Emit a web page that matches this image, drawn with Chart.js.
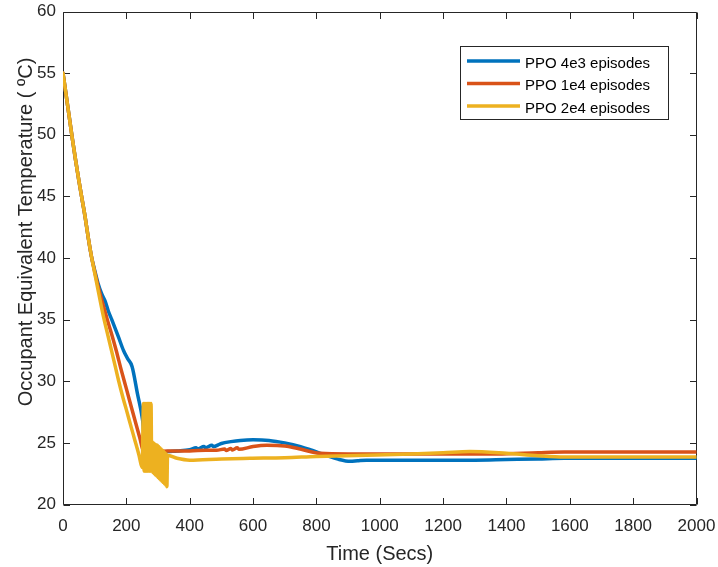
<!DOCTYPE html>
<html>
<head>
<meta charset="utf-8">
<script src="https://cdn.jsdelivr.net/npm/chart.js@4.4.1/dist/chart.umd.min.js"></script>
<style>
html,body{margin:0;padding:0;background:#fff;overflow:hidden}
#wrap{width:718px;height:567px;position:relative}
canvas{display:block}
</style>
</head>
<body>
<div id="wrap"><canvas id="c" width="718" height="567" style="width:718px;height:567px"></canvas></div>
<script>
// ---------- data ----------
const seriesLabels = ['PPO 4e3 episodes', 'PPO 1e4 episodes', 'PPO 2e4 episodes'];
const xTicks = [0, 200, 400, 600, 800, 1000, 1200, 1400, 1600, 1800, 2000];
const yTicks = [20, 25, 30, 35, 40, 45, 50, 55, 60];
const xTitle = 'Time (Secs)';
const yTitle = 'Occupant Equivalent Temperature ( \u00BAC)';

const ppo4e3Time = [0, 10, 20, 30, 40, 50, 60, 70, 80, 90, 100, 110, 122, 133, 143, 154, 175, 191, 205, 218, 235, 251, 262, 300, 330, 360, 400, 420, 425, 445, 450, 470, 475, 495, 500, 530, 560, 600, 650, 700, 750, 780, 812, 840, 865, 907, 930, 958, 1000, 1100, 1200, 1300, 1400, 1500, 1583, 1700, 1800, 1900, 2000];
const ppo4e3Temp = [55, 53.2, 51.4, 49.6, 47.9, 46.3, 44.8, 43.3, 41.6, 40.1, 39.0, 38.0, 37.1, 36.5, 35.7, 35.0, 33.6, 32.5, 31.8, 31.2, 29.0, 26.9, 24.3, 24.2, 24.3, 24.35, 24.45, 24.6, 24.5, 24.7, 24.6, 24.8, 24.7, 24.9, 24.95, 25.1, 25.2, 25.25, 25.2, 25.0, 24.7, 24.45, 24.15, 23.9, 23.7, 23.5, 23.55, 23.6, 23.6, 23.6, 23.6, 23.6, 23.65, 23.7, 23.75, 23.75, 23.75, 23.75, 23.75];

const ppo1e4Time = [0, 10, 20, 30, 40, 50, 60, 70, 80, 90, 100, 110, 120, 130, 141, 155, 168, 184, 200, 220, 243, 253, 270, 300, 330, 400, 450, 485, 510, 515, 530, 535, 550, 555, 600, 643, 700, 749, 780, 812, 900, 1000, 1100, 1200, 1300, 1371, 1500, 1583, 1700, 1800, 1900, 2000];
const ppo1e4Temp = [55, 53.2, 51.4, 49.6, 47.9, 46.3, 44.8, 43.3, 41.6, 40.1, 38.9, 37.8, 36.8, 35.9, 34.9, 33.7, 32.5, 30.9, 29.4, 27.5, 25.35, 24.4, 24.3, 24.3, 24.35, 24.35, 24.4, 24.4, 24.5, 24.38, 24.55, 24.42, 24.6, 24.48, 24.7, 24.8, 24.75, 24.5, 24.3, 24.15, 24.1, 24.1, 24.1, 24.1, 24.1, 24.1, 24.2, 24.25, 24.25, 24.25, 24.25, 24.25];

const ppo2e4Time = [0, 10, 20, 30, 40, 50, 60, 70, 80, 90, 100, 110, 120, 129, 140, 153, 165, 175, 190, 200, 215, 227, 240, 250,
  254, 256, 258, 260, 262, 264, 266, 268, 270, 272, 274, 276, 278, 280,
  282, 284, 286, 288, 290, 292, 294, 296, 298, 300, 302, 304, 306, 308, 310, 312, 314, 316, 318, 320, 322, 324, 326, 328,
  330, 360, 400, 500, 591, 700, 800, 958, 1100, 1200, 1284, 1400, 1500, 1583, 1700, 1800, 1900, 2000];
const ppo2e4Temp = [55, 53.2, 51.4, 49.6, 47.9, 46.3, 44.8, 43.3, 41.6, 40.1, 38.8, 37.5, 36.2, 35.1, 33.9, 32.5, 31.2, 30.1, 28.6, 27.7, 26.3, 25.2, 24.0, 23.0,
  28.2, 22.7, 28.2, 22.7, 28.2, 22.7, 28.2, 22.7, 28.2, 22.7, 28.2, 22.7, 28.2, 22.7,
  25.1, 22.6, 25.0, 22.5, 24.9, 22.4, 24.85, 22.3, 24.8, 22.2, 24.7, 22.1, 24.6, 22.0, 24.5, 21.9, 24.4, 21.8, 24.3, 21.7, 24.2, 21.6, 24.1, 21.45,
  24.0, 23.75, 23.6, 23.7, 23.75, 23.8, 23.9, 24.0, 24.1, 24.2, 24.3, 24.15, 23.95, 23.85, 23.85, 23.85, 23.85, 23.85];

// ---------- styling ----------
const FONT = '"Liberation Sans", Arial, Helvetica, sans-serif';
const INK = '#262626';
const COLORS = ['#0072BD', '#D95319', '#EDB120'];
const LW = 3.5;

function pts(t, v) { return t.map((x, i) => ({ x: x, y: v[i] })); }

const framePlugin = {
  id: 'frame',
  beforeDatasetsDraw(chart) {
    const { ctx, chartArea: a, scales } = chart;
    const x = scales.x, y = scales.y;
    ctx.save();
    ctx.strokeStyle = INK;
    ctx.lineWidth = 1;
    const L = Math.round(a.left) + 0.5, R = Math.round(a.right) - 0.5;
    const T = Math.round(a.top) + 0.5, B = Math.round(a.bottom) - 0.5;
    ctx.beginPath();
    ctx.rect(L, T, R - L, B - T);
    ctx.stroke();
    const tl = 6.5;
    ctx.beginPath();
    xTicks.forEach(v => {
      const px = Math.round(x.getPixelForValue(v)) + 0.5;
      ctx.moveTo(px, B); ctx.lineTo(px, B - tl);
      ctx.moveTo(px, T); ctx.lineTo(px, T + tl);
    });
    yTicks.forEach(v => {
      const py = Math.round(y.getPixelForValue(v)) + 0.5;
      ctx.moveTo(L, py); ctx.lineTo(L + tl, py);
      ctx.moveTo(R, py); ctx.lineTo(R - tl, py);
    });
    ctx.stroke();
    // axis titles
    ctx.fillStyle = INK;
    ctx.font = '20px ' + FONT;
    ctx.textAlign = 'center';
    ctx.textBaseline = 'alphabetic';
    ctx.fillText(xTitle, (a.left + a.right) / 2, 560);
    ctx.translate(31.5, 232);
    ctx.rotate(-Math.PI / 2);
    ctx.fillText(yTitle, 0, 0);
    ctx.restore();
  },
  afterDraw(chart) {
    const ctx = chart.ctx;
    ctx.save();
    const bx = 460.5, by = 46.5, bw = 208, bh = 73;
    ctx.fillStyle = '#fff';
    ctx.fillRect(bx, by, bw, bh);
    ctx.strokeStyle = INK;
    ctx.lineWidth = 1;
    ctx.strokeRect(bx, by, bw, bh);
    ctx.font = '15px ' + FONT;
    ctx.textAlign = 'left';
    ctx.textBaseline = 'alphabetic';
    chart.data.datasets.forEach((ds, i) => {
      const ly = 61 + i * 22.5;
      ctx.strokeStyle = ds.borderColor;
      ctx.lineWidth = LW;
      ctx.beginPath();
      ctx.moveTo(467, ly); ctx.lineTo(520, ly);
      ctx.stroke();
      ctx.fillStyle = '#000';
      ctx.fillText(ds.label, 525, ly + 6.8);
    });
    ctx.restore();
  }
};

const seriesTimes = [ppo4e3Time, ppo1e4Time, ppo2e4Time];
const seriesTemps = [ppo4e3Temp, ppo1e4Temp, ppo2e4Temp];

new Chart(document.getElementById('c'), {
  type: 'line',
  data: {
    datasets: seriesLabels.map((lab, i) => ({
      label: lab,
      data: pts(seriesTimes[i], seriesTemps[i]),
      borderColor: COLORS[i],
      backgroundColor: COLORS[i],
      borderWidth: LW,
      pointRadius: 0,
      cubicInterpolationMode: 'monotone',
      fill: false,
      borderJoinStyle: 'round',
      borderCapStyle: 'round',
      order: 3 - i
    }))
  },
  options: {
    responsive: false,
    animation: false,
    devicePixelRatio: 1,
    layout: { padding: { left: 0, right: 21.5, top: 11.5, bottom: 0 } },
    plugins: { legend: { display: false }, tooltip: { enabled: false } },
    scales: {
      x: {
        type: 'linear', min: 0, max: 2000,
        afterFit(s) { s.height = 62.5; s.paddingLeft = 0; s.paddingRight = 0; },
        afterBuildTicks(s) { s.ticks = xTicks.map(v => ({ value: v })); },
        grid: { display: false, drawTicks: false },
        border: { display: false },
        ticks: { autoSkip: false, maxRotation: 0, padding: 12, color: INK, font: { family: FONT, size: 17 }, callback: v => String(v) }
      },
      y: {
        type: 'linear', min: 20, max: 60,
        afterFit(s) { s.width = 63; s.paddingTop = 0; s.paddingBottom = 0; },
        afterBuildTicks(s) { s.ticks = yTicks.map(v => ({ value: v })); },
        grid: { display: false, drawTicks: false },
        border: { display: false },
        ticks: { padding: 7, color: INK, font: { family: FONT, size: 17 }, callback: v => String(v) }
      }
    }
  },
  plugins: [framePlugin]
});
</script>
</body>
</html>
